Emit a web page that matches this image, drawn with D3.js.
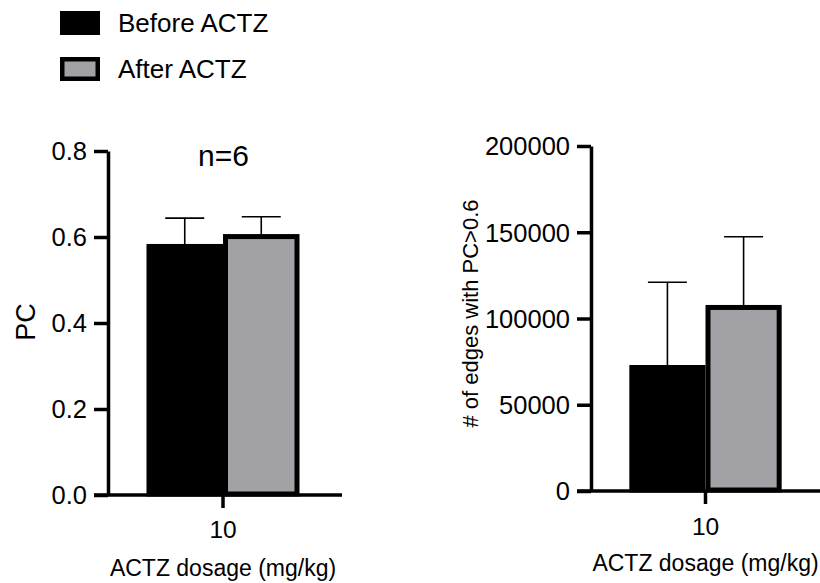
<!DOCTYPE html>
<html>
<head>
<meta charset="utf-8">
<script src="https://cdn.jsdelivr.net/npm/d3@7"></script>
<style>
  body { margin: 0; background: #fff; }
  svg { display: block; }
  text { font-family: "Liberation Sans", Arial, sans-serif; fill: #000; }
</style>
</head>
<body>
<svg id="chart" width="820" height="583"></svg>
<script>
// ---- data ----
const categories = ["10"];
const seriesNames = ["Before ACTZ", "After ACTZ"];
const pcMean = [0.578, 0.601];
const pcSD = [0.066, 0.046];
const edgesMean = [71600, 106400];
const edgesSD = [49400, 41000];
const pcTicks = [0, 0.2, 0.4, 0.6, 0.8];
const edgesTicks = [0, 50000, 100000, 150000, 200000];
const colors = ["#000000", "#a2a1a6"];

const svg = d3.select("#chart");
const FONT = "Liberation Sans, Arial, sans-serif";

// ---- legend ----
const legend = svg.append("g");
seriesNames.forEach((name, i) => {
  const g = legend.append("g").attr("transform", `translate(0,${i * 46})`);
  g.append("rect").attr("x", 62.25).attr("y", 13.25).attr("width", 35.5).attr("height", 19.5)
    .attr("fill", colors[i]).attr("stroke", "#000").attr("stroke-width", 4.5);
  g.append("text").attr("x", 118).attr("y", 32).attr("font-size", 26).text(name);
});

function panel(opts) {
  const g = svg.append("g");
  const y = d3.scaleLinear().domain(opts.yDomain).range([opts.y0, opts.y1]);
  const x0 = d3.scaleBand().domain(categories).range([opts.axisX, opts.xEnd]).paddingInner(0).paddingOuter(0.2516);
  const x1 = d3.scaleBand().domain(seriesNames).range([0, x0.bandwidth()]);

  // y axis
  const yAxis = d3.axisLeft(y).tickValues(opts.ticks).tickSize(14).tickSizeOuter(0).tickPadding(7)
    .tickFormat(opts.fmt);
  const ya = g.append("g").attr("transform", `translate(${opts.axisX},0)`).call(yAxis);
  ya.attr("font-size", 25.5).attr("font-family", FONT);
  ya.select(".domain").attr("stroke", "#000").attr("stroke-width", 3.5);
  ya.selectAll(".tick line").attr("stroke", "#000").attr("stroke-width", 3.5);
  ya.selectAll(".tick text").attr("fill", "#000").attr("dy", "0.35em");

  // bars
  const w = x1.bandwidth();
  seriesNames.forEach((s, i) => {
    const cx = x0(categories[0]) + x1(s);
    g.append("rect")
      .attr("x", cx + 2.5).attr("width", w - 5)
      .attr("y", y(opts.mean[i])).attr("height", y(0) - y(opts.mean[i]) - 1)
      .attr("fill", colors[i]).attr("stroke", "#000").attr("stroke-width", 5);
  });
  // error bars
  seriesNames.forEach((s, i) => {
    const mx = x0(categories[0]) + x1(s) + w / 2;
    const top = y(opts.mean[i] + opts.sd[i]);
    g.append("line").attr("x1", mx).attr("x2", mx).attr("y1", y(opts.mean[i]) - 2.5).attr("y2", top)
      .attr("stroke", "#000").attr("stroke-width", 1.6);
    g.append("line").attr("x1", mx - 19.5).attr("x2", mx + 19.5).attr("y1", top).attr("y2", top)
      .attr("stroke", "#000").attr("stroke-width", 1.6);
  });

  // x axis
  const xAxis = d3.axisBottom(x0).tickSize(13).tickSizeOuter(0).tickPadding(0);
  const xa = g.append("g").attr("transform", `translate(0,${y(0)})`).call(xAxis);
  xa.attr("font-size", 24.5).attr("font-family", FONT);
  xa.select(".domain").remove();
  xa.selectAll(".tick line").attr("stroke", "#000").attr("stroke-width", 3.5);
  xa.selectAll(".tick text").attr("fill", "#000").attr("y", opts.tickLabelDy).attr("dy", 0);
  g.append("line").attr("x1", opts.axisX - 14).attr("x2", opts.xEnd + 4)
    .attr("y1", y(0)).attr("y2", y(0)).attr("stroke", "#000").attr("stroke-width", 3.5);

  // x title
  g.append("text").attr("x", x0(categories[0]) + x0.bandwidth() / 2).attr("y", y(0) + opts.xTitleDy)
    .attr("text-anchor", "middle").attr("font-size", 23).text("ACTZ dosage (mg/kg)");
  // y title
  g.append("text").attr("transform", `translate(${opts.yTitleX},${opts.yTitleY}) rotate(-90)`)
    .attr("text-anchor", "middle").attr("font-size", opts.yTitleSize).text(opts.yTitle);
  return { g, x0, y };
}

const p1 = panel({
  yDomain: [0, 0.8], y0: 495, y1: 151, axisX: 108, xEnd: 338,
  ticks: pcTicks, fmt: d3.format(".1f"), mean: pcMean, sd: pcSD,
  tickLabelDy: 43, xTitleDy: 81, yTitle: "PC", yTitleX: 35, yTitleY: 322, yTitleSize: 27
});
p1.g.append("text").attr("x", 223.5).attr("y", 166).attr("text-anchor", "middle")
  .attr("font-family", "Noto Sans, Open Sans, sans-serif").attr("font-size", 30).text("n=6");

panel({
  yDomain: [0, 200000], y0: 491, y1: 146, axisX: 591, xEnd: 820,
  ticks: edgesTicks, fmt: d3.format("d"), mean: edgesMean, sd: edgesSD,
  tickLabelDy: 44, xTitleDy: 80, yTitle: "# of edges with PC>0.6", yTitleX: 478, yTitleY: 313.5, yTitleSize: 22
});
</script>
</body>
</html>
